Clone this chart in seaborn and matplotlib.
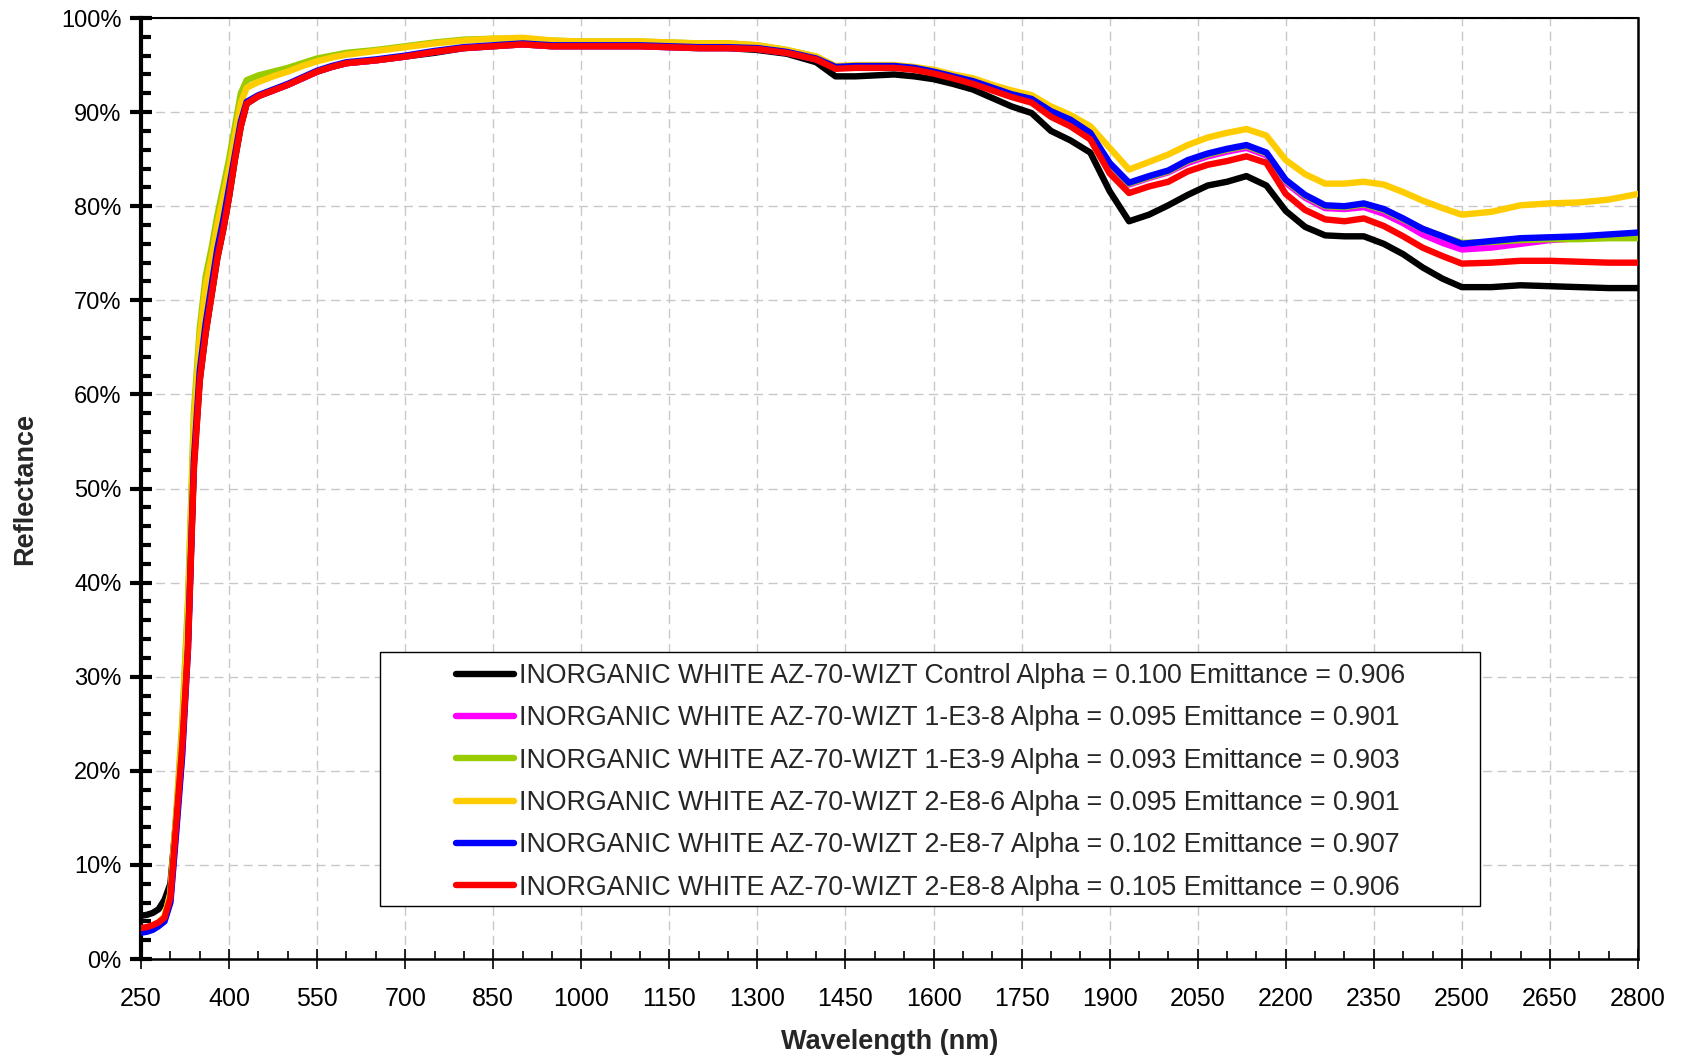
import matplotlib
matplotlib.use("Agg")
import matplotlib.pyplot as plt
import seaborn as sns
import pandas as pd
from matplotlib.ticker import FixedLocator, MultipleLocator
from matplotlib.lines import Line2D
from matplotlib.patches import Rectangle

# ---------------- data ----------------
wavelength = [250, 260, 270, 280, 290, 300, 310, 320, 330, 340, 350, 360, 370, 380, 390, 400, 410, 420, 430,
              450, 475, 500, 525, 550, 575, 600, 650, 700, 750, 800, 850, 900, 950, 1000, 1050, 1100, 1150,
              1200, 1250, 1300, 1350, 1400, 1433, 1467, 1500, 1533, 1567, 1600, 1633, 1667, 1700, 1733, 1767,
              1800, 1833, 1867, 1900, 1933, 1967, 2000, 2033, 2067, 2100, 2133, 2167, 2200, 2233, 2267, 2300,
              2333, 2367, 2400, 2433, 2467, 2500, 2550, 2600, 2650, 2700, 2750, 2800]

control = [4.6, 4.7, 4.9, 5.3, 6.3, 8.0, 15.0, 23.0, 34.0, 52.5, 61.5, 66.5, 70.5, 74.5, 77.5, 81.0, 85.0, 88.5, 90.9,
           91.7, 92.3, 92.9, 93.6, 94.3, 94.8, 95.2, 95.5, 95.9, 96.3, 96.8, 97.0, 97.2, 97.0, 97.0, 97.0, 97.0, 96.9,
           96.8, 96.8, 96.6, 96.2, 95.3, 93.8, 93.8, 93.9, 94.0, 93.8, 93.5, 93.0, 92.4, 91.5, 90.6, 89.9,
           88.0, 87.0, 85.7, 81.6, 78.4, 79.1, 80.1, 81.2, 82.2, 82.6, 83.2, 82.2, 79.5, 77.8, 76.9, 76.8,
           76.8, 76.0, 74.9, 73.5, 72.3, 71.4, 71.4, 71.6, 71.5, 71.4, 71.3, 71.3]

e3_8 = [3.0, 3.1, 3.3, 3.7, 4.2, 6.2, 14.0, 22.0, 34.0, 54.0, 63.0, 68.0, 71.5, 75.5, 78.5, 82.0, 85.5, 89.0, 91.0,
        91.7, 92.3, 92.9, 93.6, 94.3, 94.8, 95.2, 95.5, 95.9, 96.4, 96.8, 97.0, 97.2, 97.0, 97.0, 97.0, 97.0, 96.9,
        96.8, 96.8, 96.7, 96.3, 95.6, 94.7, 94.8, 94.8, 94.8, 94.6, 94.2, 93.7, 93.2, 92.5, 91.8, 91.3,
        90.0, 89.1, 87.7, 84.4, 82.3, 83.0, 83.6, 84.6, 85.3, 85.8, 86.2, 85.4, 82.5, 80.9, 79.8, 79.7,
        79.9, 79.2, 78.2, 77.0, 76.1, 75.4, 75.6, 76.0, 76.4, 76.6, 76.8, 77.0]

e3_9 = [3.2, 3.3, 3.5, 3.9, 4.5, 7.0, 15.5, 25.0, 38.0, 58.0, 67.0, 72.5, 75.5, 79.0, 82.0, 85.0, 88.5, 92.0, 93.4,
        93.9, 94.3, 94.7, 95.2, 95.7, 96.0, 96.3, 96.6, 97.0, 97.4, 97.7, 97.8, 97.8, 97.6, 97.5, 97.5, 97.5, 97.4,
        97.3, 97.3, 97.1, 96.6, 95.9, 94.8, 94.9, 94.9, 94.9, 94.7, 94.3, 93.8, 93.3, 92.6, 91.9, 91.4,
        90.1, 89.2, 87.8, 84.5, 82.4, 83.1, 83.7, 84.8, 85.5, 86.0, 86.4, 85.6, 82.7, 81.1, 80.0, 79.9,
        80.2, 79.6, 78.6, 77.6, 76.8, 76.1, 76.2, 76.4, 76.5, 76.5, 76.6, 76.6]

e8_6 = [3.2, 3.3, 3.5, 3.9, 4.5, 7.0, 15.0, 24.0, 37.0, 57.0, 66.0, 71.5, 74.5, 78.0, 81.0, 84.0, 87.5, 91.0, 92.6,
        93.2, 93.8, 94.3, 94.9, 95.4, 95.8, 96.1, 96.5, 96.9, 97.3, 97.6, 97.8, 97.9, 97.6, 97.5, 97.5, 97.5, 97.4,
        97.3, 97.3, 97.1, 96.6, 95.9, 94.9, 95.0, 95.0, 95.0, 94.8, 94.5, 94.0, 93.6, 92.9, 92.3, 91.8,
        90.6, 89.7, 88.5, 86.2, 83.9, 84.7, 85.5, 86.5, 87.3, 87.8, 88.2, 87.5, 84.9, 83.4, 82.4, 82.4,
        82.6, 82.3, 81.5, 80.6, 79.8, 79.1, 79.4, 80.1, 80.3, 80.4, 80.7, 81.3]

e8_7 = [2.8, 2.9, 3.1, 3.5, 4.0, 6.0, 13.5, 21.5, 33.0, 53.0, 62.5, 67.5, 71.5, 75.5, 78.5, 82.0, 85.5, 89.0, 91.1,
        91.8, 92.4, 93.0, 93.7, 94.4, 94.9, 95.3, 95.6, 96.0, 96.5, 96.9, 97.1, 97.3, 97.1, 97.1, 97.1, 97.1, 97.0,
        96.9, 96.9, 96.8, 96.4, 95.7, 94.8, 94.9, 94.9, 94.9, 94.7, 94.3, 93.8, 93.3, 92.6, 91.9, 91.4,
        90.1, 89.2, 87.8, 84.6, 82.5, 83.2, 83.8, 84.9, 85.6, 86.1, 86.5, 85.7, 82.8, 81.2, 80.1, 80.0,
        80.3, 79.7, 78.7, 77.6, 76.8, 76.0, 76.3, 76.6, 76.7, 76.8, 77.0, 77.2]

e8_8 = [3.3, 3.4, 3.6, 3.9, 4.4, 6.5, 14.5, 22.5, 33.0, 52.0, 61.5, 66.5, 70.5, 74.5, 77.5, 81.0, 85.0, 88.5, 90.9,
        91.7, 92.3, 92.9, 93.6, 94.3, 94.8, 95.2, 95.5, 95.9, 96.4, 96.8, 97.0, 97.2, 97.0, 97.0, 97.0, 97.0, 96.9,
        96.8, 96.8, 96.7, 96.3, 95.6, 94.6, 94.7, 94.7, 94.7, 94.5, 94.1, 93.6, 93.0, 92.3, 91.6, 91.0,
        89.5, 88.5, 87.1, 83.5, 81.4, 82.1, 82.6, 83.7, 84.4, 84.8, 85.3, 84.6, 81.3, 79.6, 78.6, 78.4,
        78.7, 77.9, 76.8, 75.6, 74.7, 73.9, 74.0, 74.2, 74.2, 74.1, 74.0, 74.0]

series_labels = [
    "INORGANIC WHITE AZ-70-WIZT Control Alpha = 0.100 Emittance = 0.906",
    "INORGANIC WHITE AZ-70-WIZT 1-E3-8 Alpha = 0.095 Emittance = 0.901",
    "INORGANIC WHITE AZ-70-WIZT 1-E3-9 Alpha = 0.093 Emittance = 0.903",
    "INORGANIC WHITE AZ-70-WIZT 2-E8-6 Alpha = 0.095 Emittance = 0.901",
    "INORGANIC WHITE AZ-70-WIZT 2-E8-7 Alpha = 0.102 Emittance = 0.907",
    "INORGANIC WHITE AZ-70-WIZT 2-E8-8 Alpha = 0.105 Emittance = 0.906",
]
series_values = [control, e3_8, e3_9, e8_6, e8_7, e8_8]
series_colors = ["#000000", "#FF00FF", "#99CC00", "#FFCC00", "#0000FF", "#FF0000"]

x_ticks = [250, 400, 550, 700, 850, 1000, 1150, 1300, 1450, 1600, 1750, 1900, 2050, 2200, 2350, 2500, 2650, 2800]
y_ticks = [0, 10, 20, 30, 40, 50, 60, 70, 80, 90, 100]
y_tick_labels = ["0%", "10%", "20%", "30%", "40%", "50%", "60%", "70%", "80%", "90%", "100%"]

# ---------------- figure ----------------
sns.set_theme(style="white")
plt.rcParams["font.family"] = ["Liberation Sans", "DejaVu Sans"]

df = pd.concat(
    [pd.DataFrame({"Wavelength": wavelength, "Reflectance": vals, "Series": lab})
     for lab, vals in zip(series_labels, series_values)],
    ignore_index=True,
)

fig = plt.figure(figsize=(16.85, 10.59), dpi=100)
ax = fig.add_axes([0.0837, 0.0944, 0.8884, 0.8886])

sns.lineplot(data=df, x="Wavelength", y="Reflectance", hue="Series", hue_order=series_labels,
             palette=dict(zip(series_labels, series_colors)), estimator=None, sort=False,
             linewidth=4.6, legend=False, ax=ax, zorder=3)

ax.set_xlim(250, 2800)
ax.set_ylim(0, 100)
ax.xaxis.set_major_locator(FixedLocator(x_ticks))
ax.xaxis.set_minor_locator(MultipleLocator(50))
ax.yaxis.set_major_locator(FixedLocator(y_ticks))
ax.yaxis.set_minor_locator(MultipleLocator(2))
ax.set_yticklabels(y_tick_labels)

ax.grid(True, which="major", color="#C8C8C8", linestyle=(0, (6.5, 4)), linewidth=1.0, zorder=0)
ax.set_axisbelow(True)

ax.tick_params(axis="x", which="major", direction="inout", length=14, width=1.2, colors="black",
               labelsize=18, pad=13)
ax.tick_params(axis="x", which="minor", direction="in", length=6, width=1.2, colors="black")
ax.tick_params(axis="y", which="major", direction="inout", length=16, width=3.0, colors="black",
               labelsize=17, pad=6)
ax.tick_params(axis="y", which="minor", direction="in", length=7, width=3.0, colors="black")
ax.xaxis.set_tick_params(which="both", bottom=True, top=False)
ax.yaxis.set_tick_params(which="both", left=True, right=False)

for side, lw in [("left", 3.0), ("bottom", 1.8), ("top", 1.5), ("right", 1.8)]:
    ax.spines[side].set_color("black")
    ax.spines[side].set_linewidth(lw)
    ax.spines[side].set_visible(True)

ax.set_xlabel("Wavelength (nm)", fontsize=19.5, fontweight="bold")
ax.set_ylabel("Reflectance", fontsize=19.5, fontweight="bold")
ax.xaxis.set_label_coords(0.5, -0.074)
ax.yaxis.set_label_coords(-0.0689, 0.5)

# legend with a framed box
frame = Rectangle((0.1597, 0.0563), 0.7345, 0.2699, transform=ax.transAxes, facecolor="white",
                  edgecolor="black", linewidth=1.0, zorder=5)
ax.add_patch(frame)
handles = [Line2D([0], [0], color=c, lw=4.6, solid_capstyle="round") for c in series_colors]
leg = ax.legend(handles, series_labels, loc="upper left", bbox_to_anchor=(0.2104, 0.3146),
                frameon=False, fontsize=19.3, handlelength=2.16, handletextpad=0.19,
                labelspacing=0.61, borderpad=0, borderaxespad=0)
leg.set_zorder(6)

fig.savefig("out.png", dpi=100, facecolor="white")
